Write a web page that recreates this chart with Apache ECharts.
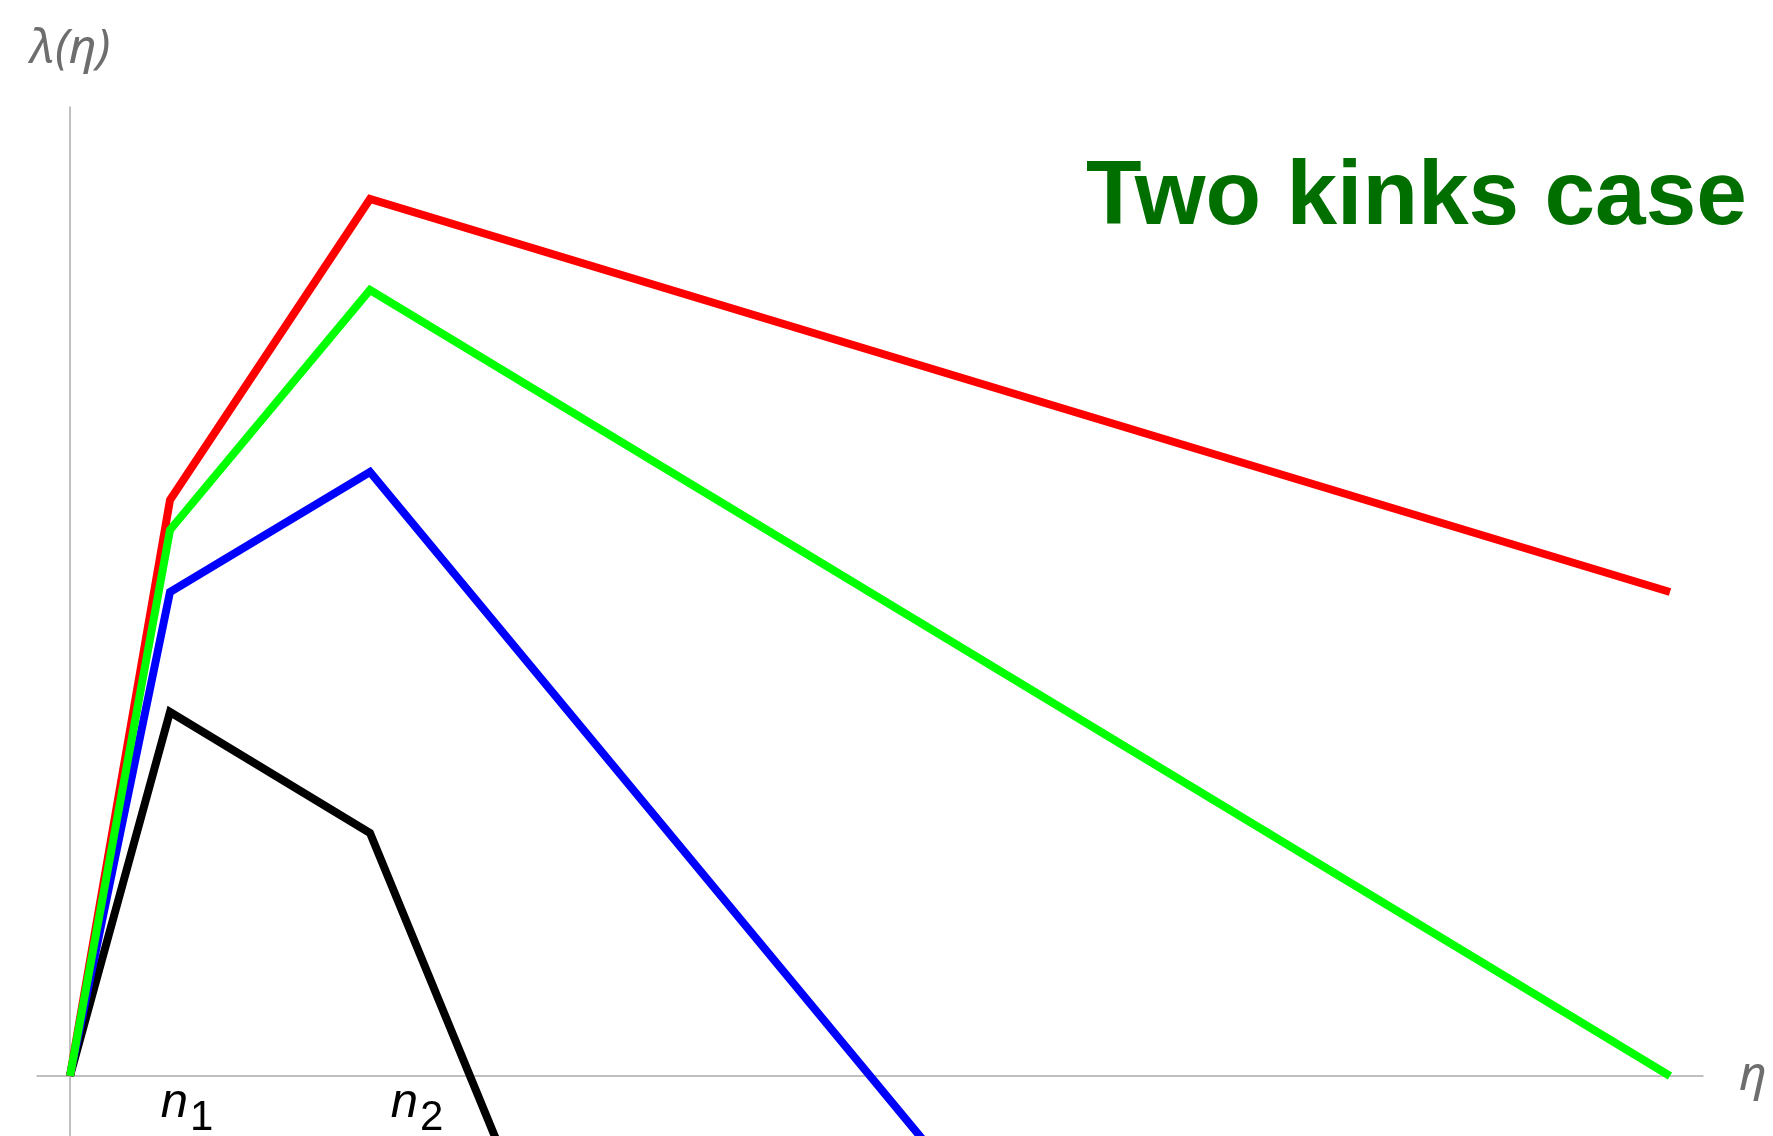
<!DOCTYPE html>
<html>
<head>
<meta charset="utf-8">
<title>Two kinks case</title>
<script src="https://cdn.jsdelivr.net/npm/echarts@6/dist/echarts.min.js"></script>
<style>
  html, body { margin: 0; padding: 0; background: #ffffff; }
  #chart { width: 1773px; height: 1136px; }
</style>
</head>
<body>
<div id="chart"></div>
<script>
// Piecewise-linear λ(η) curves with kinks at η = n1 and η = n2
const eta = [0, 1, 3, 16];
const redValues = [0, 5.76, 8.77, 4.84];
const greenValues = [0, 5.46, 7.86, 0];
const blueValues = [0, 4.84, 6.04, -9.66];
const blackValues = [0, 3.64, 2.43, -29.16];

// kink positions on the η axis and their subscripts
const kinkPositions = [1, 3];
const kinkSubscripts = ['1', '2'];

const titleText = 'Two kinks case';
const yAxisTitle = 'λ(η)';
const xAxisTitle = 'η';

function pairs(ys) {
  return eta.map((x, i) => [x, ys[i]]);
}

function curve(name, color, values) {
  return {
    name: name,
    type: 'line',
    data: pairs(values),
    showSymbol: false,
    symbol: 'none',
    clip: true,
    animation: false,
    lineStyle: { color: color, width: 8, join: 'miter', cap: 'butt' }
  };
}

const chart = echarts.init(document.getElementById('chart'), null, { renderer: 'canvas' });

chart.setOption({
  backgroundColor: '#ffffff',
  animation: false,
  title: {
    text: titleText,
    left: 1086,
    top: 153,
    padding: 0,
    textStyle: {
      fontFamily: 'Liberation Sans, Arial, sans-serif',
      fontWeight: 'bold',
      fontSize: 91,
      color: '#006f00'
    }
  },
  // the plot area runs down to the bottom edge of the canvas
  grid: {
    left: 37, right: 70, top: 107, bottom: 0,
    containLabel: false,
    outerBoundsMode: 'none'
  },
  xAxis: {
    type: 'value',
    min: -0.33,
    max: 16.33,
    name: xAxisTitle,
    nameLocation: 'end',
    nameGap: 36,
    nameTextStyle: {
      fontFamily: 'Noto Sans, DejaVu Sans, sans-serif',
      fontStyle: 'italic',
      fontSize: 48,
      color: '#6e6e6e',
      padding: [0, 0, 4, 0]
    },
    axisLine: { show: true, onZero: true, lineStyle: { color: '#ababab', width: 1.5 } },
    axisTick: { show: false },
    splitLine: { show: false },
    axisLabel: {
      show: true,
      customValues: kinkPositions,
      // labels sit just under the η axis line, which lies above the plot's bottom edge
      margin: -69,
      hideOverlap: false,
      formatter: function (value) {
        const k = kinkPositions.indexOf(value);
        return '{' + (k === 0 ? 'a' : 'b') + '|n}{s|' + kinkSubscripts[k] + '}';
      },
      rich: {
        a: {
          fontFamily: 'Liberation Sans, Arial, sans-serif',
          fontStyle: 'italic',
          fontSize: 49,
          color: '#000000',
          padding: [0, 0, 0, 34]
        },
        b: {
          fontFamily: 'Liberation Sans, Arial, sans-serif',
          fontStyle: 'italic',
          fontSize: 49,
          color: '#000000',
          padding: [0, 0, 0, 94]
        },
        s: {
          fontFamily: 'Liberation Sans, Arial, sans-serif',
          fontSize: 42,
          color: '#000000',
          padding: [30, 0, 0, 2]
        }
      }
    }
  },
  yAxis: {
    type: 'value',
    min: -0.6,
    max: 9.69,
    name: yAxisTitle,
    nameLocation: 'end',
    nameGap: 34,
    nameTextStyle: {
      fontFamily: 'Noto Sans, DejaVu Sans, sans-serif',
      fontStyle: 'italic',
      fontSize: 48,
      color: '#6e6e6e',
      align: 'center'
    },
    axisLine: { show: true, onZero: true, lineStyle: { color: '#ababab', width: 1.5 } },
    axisTick: { show: false },
    axisLabel: { show: false },
    splitLine: { show: false }
  },
  series: [
    curve('black', '#000000', blackValues),
    curve('blue', '#0000ff', blueValues),
    curve('red', '#ff0000', redValues),
    curve('green', '#00ff00', greenValues)
  ]
});
</script>
</body>
</html>
